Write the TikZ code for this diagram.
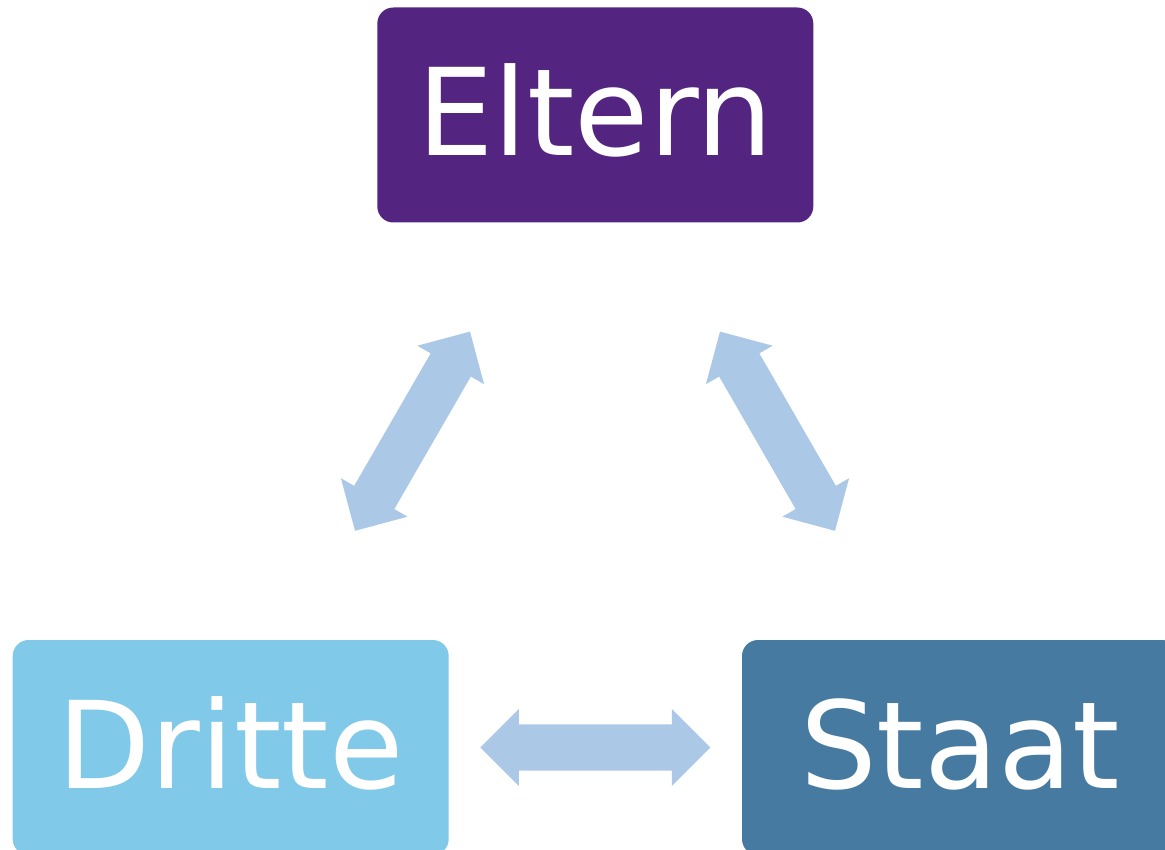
\documentclass[tikz,border=0pt]{standalone}
\usepackage{fontspec}
\setmainfont{DejaVu Sans}
\definecolor{elterncol}{RGB}{83,37,129}
\definecolor{drittecol}{RGB}{128,201,232}
\definecolor{staatcol}{RGB}{70,122,160}
\definecolor{arrowcol}{RGB}{171,201,230}
\tikzset{
  boxnode/.style={rectangle, rounded corners=16pt, minimum width=436pt, minimum height=215pt,
    inner sep=0pt, text=white, font=\fontsize{121}{121}\selectfont,
    text height=88pt, text depth=6pt},
  bigarrow/.style={fill=arrowcol, draw=none}
}
\newcommand{\dblarrowshape}{(-115,0) -- (-76.5,38.5) -- (-76.5,23.2) -- (76.5,23.2) -- (76.5,38.5) -- (115,0) -- (76.5,-38.5) -- (76.5,-23.2) -- (-76.5,-23.2) -- (-76.5,-38.5) -- cycle}
\begin{document}
\begin{tikzpicture}[x=1pt,y=-1pt]
\useasboundingbox (0,0) rectangle (1165,850);
\clip (0,0) rectangle (1165,850);
\node[boxnode, fill=elterncol] (eltern) at (595.3,115) {Eltern};
\node[boxnode, fill=drittecol] (dritte) at (230.7,747.5) {Dritte};
\node[boxnode, fill=staatcol] (staat) at (960,747.5) {Staat};
\coordinate (ed) at (412.5,431.2);
\coordinate (es) at (777.5,431.2);
\coordinate (ds) at (595.4,747.5);
\fill[bigarrow, shift={(ed)}, rotate=60] \dblarrowshape;
\fill[bigarrow, shift={(es)}, rotate=-60] \dblarrowshape;
\fill[bigarrow, shift={(ds)}] \dblarrowshape;
\end{tikzpicture}
\end{document}
